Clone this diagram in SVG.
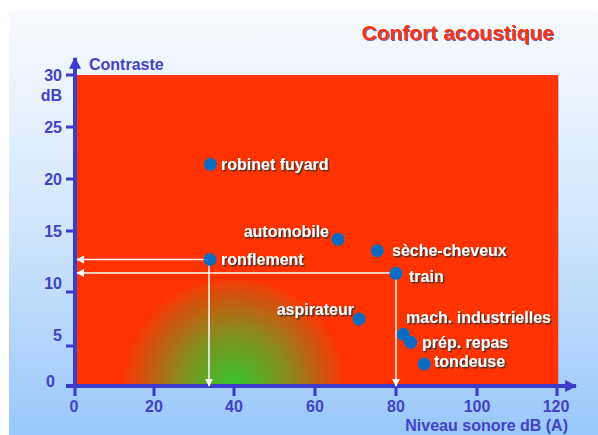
<svg xmlns="http://www.w3.org/2000/svg" width="598" height="435" viewBox="0 0 598 435">
<defs>
<linearGradient id="bg" x1="0" y1="0" x2="0" y2="1">
<stop offset="0" stop-color="#f9fbfe"/>
<stop offset="0.5" stop-color="#d2e6fb"/>
<stop offset="1" stop-color="#98c8fb"/>
</linearGradient>
<radialGradient id="green" cx="234" cy="386" r="112" gradientUnits="userSpaceOnUse">
<stop offset="0" stop-color="#33c630"/>
<stop offset="0.5" stop-color="#8a8a1e"/>
<stop offset="1" stop-color="#ff3300"/>
</radialGradient>
<clipPath id="plotclip"><rect x="76" y="75" width="482" height="311"/></clipPath>
<marker id="wa" viewBox="0 0 10 10" refX="9" refY="5" markerWidth="8" markerHeight="8" markerUnits="userSpaceOnUse" orient="auto">
<path d="M0,0 L10,5 L0,10 z" fill="#ffffff"/>
</marker>
<marker id="ba" viewBox="0 0 10 10" refX="9" refY="5" markerWidth="12" markerHeight="12" markerUnits="userSpaceOnUse" orient="auto">
<path d="M0,0 L10,5 L0,10 z" fill="#3b3bcc"/>
</marker>
<filter id="sh" x="-10%" y="-30%" width="130%" height="170%">
<feDropShadow dx="1.5" dy="1.5" stdDeviation="0.4" flood-color="#333333" flood-opacity="0.9"/>
</filter>
<filter id="tsh" x="-10%" y="-30%" width="130%" height="170%">
<feDropShadow dx="1" dy="1" stdDeviation="0.3" flood-color="#5050a0" flood-opacity="0.9"/>
</filter>
</defs>
<style>
.ax{stroke:#3b3bcc;stroke-width:4;fill:none}
.tk{stroke:#3b3bcc;stroke-width:3;fill:none}
.al{font-family:"Liberation Sans",Arial,sans-serif;font-weight:bold;font-size:16px;fill:#4343c8}
.lb{font-family:"Liberation Sans",Arial,sans-serif;font-weight:bold;font-size:16px;fill:#ffffff;filter:url(#sh)}
.pt{fill:#0a6cc0}
.wl{stroke:#ffffff;stroke-width:1.5;fill:none}
</style>
<rect x="9" y="10" width="589" height="425" fill="url(#bg)"/>
<text x="554" y="40" text-anchor="end" font-family="'Liberation Sans',Arial,sans-serif" font-weight="bold" font-size="21" fill="#ff3300" filter="url(#tsh)">Confort acoustique</text>

<g id="plot">
<rect x="77" y="75" width="482" height="311" fill="#a0a0b0" opacity="0.6"/>
<rect x="76" y="75" width="482" height="311" fill="#ff3300"/>
<ellipse cx="234" cy="386" rx="112" ry="106" fill="url(#green)" clip-path="url(#plotclip)"/>
<rect x="122" y="386.5" width="126" height="1.5" fill="#e04010" opacity="0.8"/>
</g>

<g id="axes">
<line class="ax" x1="75" y1="388" x2="75" y2="58" marker-end="url(#ba)"/>
<line class="ax" x1="66" y1="386" x2="576" y2="386" marker-end="url(#ba)"/>
<path class="tk" d="M66,75H75M66,127H75M66,179H75M66,231H75M66,292H75M66,346H75"/>
<path class="tk" d="M75,386V396M154,386V396M234,386V396M315,386V396M396,386V396M477,386V396M557,386V396"/>
<text class="al" x="89" y="70">Contraste</text>
<g text-anchor="end">
<text class="al" x="62" y="81">30</text>
<text class="al" x="62" y="101">dB</text>
<text class="al" x="62" y="133">25</text>
<text class="al" x="62" y="185">20</text>
<text class="al" x="62" y="237">15</text>
<text class="al" x="62" y="289">10</text>
<text class="al" x="62" y="341">5</text>
<text class="al" x="55" y="387">0</text>
</g>
<g text-anchor="middle">
<text class="al" x="74" y="412">0</text>
<text class="al" x="154" y="412">20</text>
<text class="al" x="234" y="412">40</text>
<text class="al" x="315" y="412">60</text>
<text class="al" x="396" y="412">80</text>
<text class="al" x="477" y="412">100</text>
<text class="al" x="556" y="412">120</text>
</g>
<text class="al" x="568" y="431" text-anchor="end">Niveau sonore dB (A)</text>
</g>

<g id="connectors">
<line class="wl" x1="210" y1="259.5" x2="77" y2="259.5" marker-end="url(#wa)"/>
<line class="wl" x1="396" y1="273" x2="77" y2="273" marker-end="url(#wa)"/>
<line class="wl" x1="209" y1="259.5" x2="209" y2="386" marker-end="url(#wa)"/>
<line class="wl" x1="396" y1="273" x2="396" y2="386" marker-end="url(#wa)"/>
</g>

<g id="robinet"><circle class="pt" cx="210.5" cy="164.3" r="6.5"/><text class="lb" x="221" y="170">robinet fuyard</text></g>
<g id="automobile"><circle class="pt" cx="338" cy="239.3" r="6.5"/><text class="lb" x="329" y="237" text-anchor="end">automobile</text></g>
<g id="seche"><circle class="pt" cx="377.3" cy="250.7" r="6.5"/><text class="lb" x="392" y="256">sèche-cheveux</text></g>
<g id="ronflement"><circle class="pt" cx="210" cy="259.5" r="6.5"/><text class="lb" x="221" y="265">ronflement</text></g>
<g id="train"><circle class="pt" cx="396" cy="273.3" r="6.5"/><text class="lb" x="409" y="282">train</text></g>
<g id="aspirateur"><circle class="pt" cx="359" cy="319" r="6.5"/><text class="lb" x="354" y="315" text-anchor="end">aspirateur</text></g>
<g id="mach"><circle class="pt" cx="403.3" cy="334.3" r="6.5"/><text class="lb" x="406" y="323">mach. industrielles</text></g>
<g id="prep"><circle class="pt" cx="410.7" cy="342.3" r="6.5"/><text class="lb" x="422" y="348">prép. repas</text></g>
<g id="tondeuse"><circle class="pt" cx="424.3" cy="364" r="6.5"/><text class="lb" x="434" y="367">tondeuse</text></g>
</svg>
